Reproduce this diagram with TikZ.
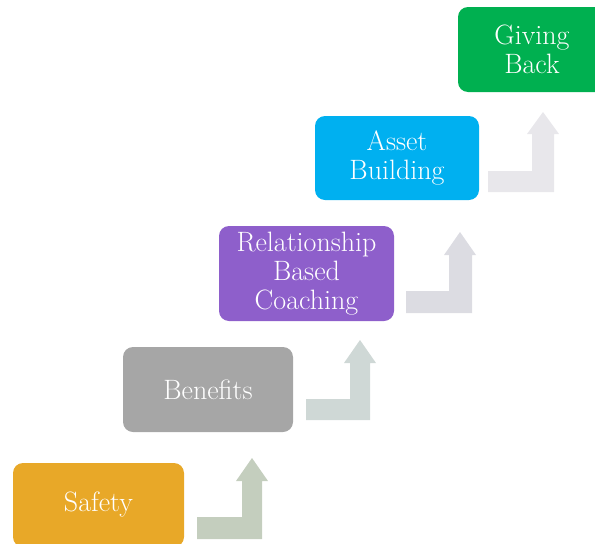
\documentclass[tikz,border=0pt]{standalone}
\definecolor{cSafety}{HTML}{E8A828}
\definecolor{cBenefits}{HTML}{A6A6A6}
\definecolor{cRBC}{HTML}{8E5FCB}
\definecolor{cAsset}{HTML}{00B0F0}
\definecolor{cGiving}{HTML}{00B050}
\definecolor{cArrA}{HTML}{C4CEBE}
\definecolor{cArrB}{HTML}{CFD8D6}
\definecolor{cArrC}{HTML}{DCDCE2}
\definecolor{cArrD}{HTML}{E8E7EB}
\begin{document}
\begin{tikzpicture}[x=1pt,y=-1pt,
  stepbox/.style={rounded corners=10pt, inner sep=0pt, align=center, text=white,
    font=\fontsize{28}{29}\selectfont},
  ]
\useasboundingbox (0,0) rectangle (595,544);
\clip (0,0) rectangle (595,544);
\node[stepbox, fill=cSafety, minimum width=171pt, minimum height=84pt] (safety) at (98.5,505) {Safety};
\node[stepbox, fill=cBenefits, minimum width=170pt, minimum height=85pt] (benefits) at (208,389.5) {Benefits};
\node[stepbox, fill=cRBC, minimum width=175pt, minimum height=95pt] (rbc) at (306.5,273.5) {Relationship\\Based\\Coaching};
\node[stepbox, fill=cAsset, minimum width=164pt, minimum height=84pt] (asset) at (397,158) {Asset\\Building};
\node[stepbox, fill=cGiving, minimum width=148pt, minimum height=85pt] (giving) at (532,49.5) {Giving\\Back};
\fill[cArrA] (197,517) -- (242,517) -- (242,481) -- (236,481) -- (252,458) -- (268,481) -- (262,481) -- (262,539) -- (197,539) -- cycle;
\fill[cArrB] (306,399) -- (350,399) -- (350,363) -- (344,363) -- (360,340) -- (376,363) -- (370,363) -- (370,420) -- (306,420) -- cycle;
\fill[cArrC] (406,291) -- (449,291) -- (449,255) -- (444,255) -- (460,232) -- (476,255) -- (472,255) -- (472,313) -- (406,313) -- cycle;
\fill[cArrD] (488,171) -- (532,171) -- (532,134) -- (527,134) -- (543,112) -- (559,134) -- (554,134) -- (554,192) -- (488,192) -- cycle;
\end{tikzpicture}
\end{document}
